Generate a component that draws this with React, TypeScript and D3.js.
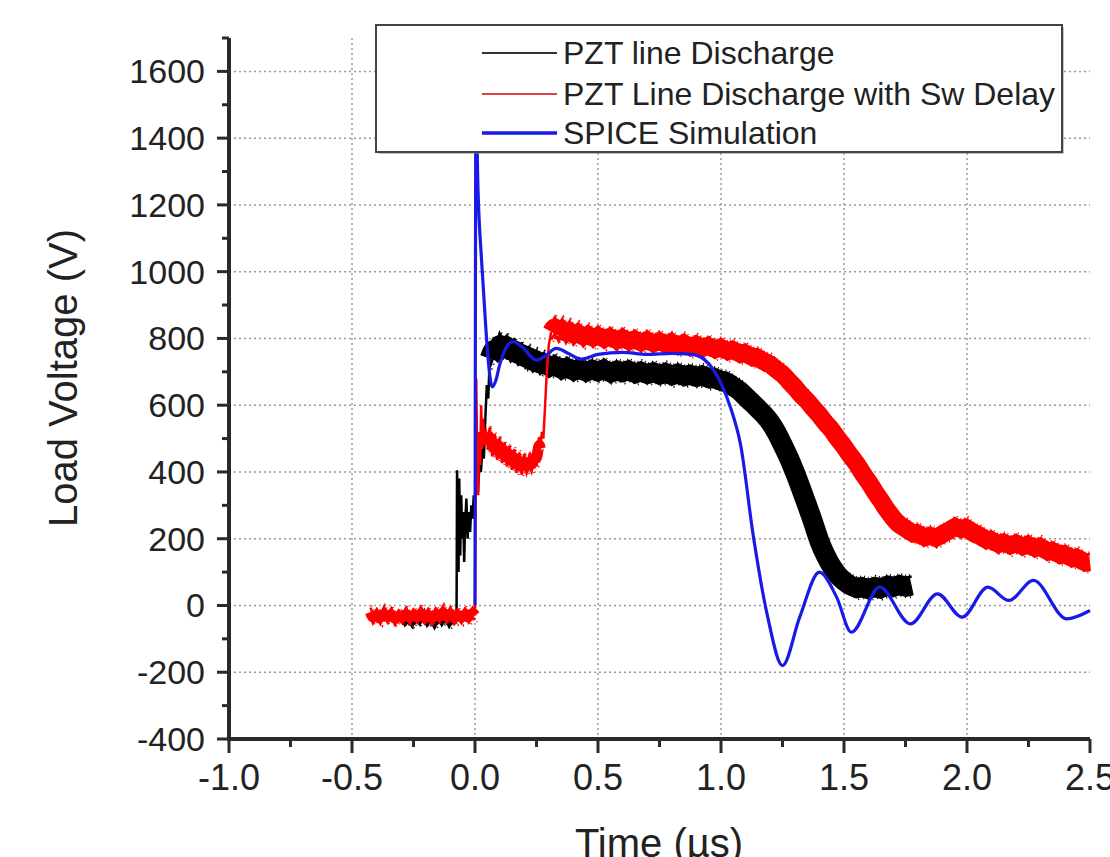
import React from "react";
import * as d3 from "d3";

const xTicks = [-1.0, -0.5, 0.0, 0.5, 1.0, 1.5, 2.0, 2.5];
const yTicks = [-400, -200, 0, 200, 400, 600, 800, 1000, 1200, 1400, 1600];
const legendLabels = ["PZT line Discharge", "PZT Line Discharge with Sw Delay", "SPICE Simulation"];

// Black trace: PZT line Discharge
const blackBase: [number, number][] = [
  [-0.3, -30], [-0.285, -50], [-0.27, -35], [-0.255, -55], [-0.24, -32], [-0.225, -48], [-0.21, -28],
  [-0.195, -52], [-0.18, -36], [-0.165, -58], [-0.15, -34], [-0.135, -50], [-0.12, -30], [-0.105, -55],
  [-0.09, -38], [-0.075, -45],
];
const blackOnset: [number, number][] = [
  [-0.075, -40], [-0.073, 405], [-0.07, 300], [-0.067, 100], [-0.064, 380], [-0.06, 150], [-0.056, 330],
  [-0.052, 200], [-0.048, 280], [-0.044, 130], [-0.04, 250], [-0.035, 320], [-0.03, 200], [-0.025, 280],
  [-0.02, 220], [-0.015, 300], [-0.01, 260], [-0.005, 330], [0.0, 300], [0.006, 380], [0.012, 340],
  [0.018, 420], [0.024, 400], [0.03, 470], [0.036, 440], [0.042, 560], [0.048, 660], [0.054, 620], [0.06, 740],
];
const blackMain: [number, number][] = [
  [0.06, 740], [0.075, 772], [0.09, 760], [0.1, 788], [0.115, 768], [0.13, 782], [0.145, 758], [0.16, 770],
  [0.175, 748], [0.19, 758], [0.205, 738], [0.22, 748], [0.235, 728], [0.25, 738], [0.265, 720], [0.28, 730],
  [0.3, 712], [0.325, 722], [0.35, 705], [0.375, 715], [0.4, 700], [0.425, 712], [0.45, 698], [0.475, 708],
  [0.5, 700], [0.525, 710], [0.55, 695], [0.575, 705], [0.6, 698], [0.625, 706], [0.65, 694], [0.675, 702],
  [0.7, 692], [0.725, 700], [0.75, 690], [0.775, 698], [0.8, 688], [0.825, 696], [0.85, 686], [0.875, 692],
  [0.9, 684], [0.925, 690], [0.95, 680], [0.975, 682], [1.0, 672], [1.025, 670], [1.05, 655], [1.075, 645],
  [1.1, 625], [1.125, 608], [1.15, 590], [1.175, 572], [1.2, 550], [1.225, 520], [1.25, 482], [1.275, 445],
  [1.3, 400], [1.325, 352], [1.35, 300], [1.375, 250], [1.4, 190], [1.425, 150], [1.45, 115], [1.475, 90],
  [1.5, 72], [1.525, 60], [1.55, 52], [1.575, 55], [1.6, 48], [1.625, 56], [1.65, 50], [1.675, 60],
  [1.7, 55], [1.725, 62], [1.75, 56], [1.775, 60],
];

// Red trace: PZT Line Discharge with Sw Delay
const redBase: [number, number][] = [
  [-0.425, -20], [-0.415, -40], [-0.4, -25], [-0.385, -42], [-0.37, -18], [-0.355, -38], [-0.34, -22],
  [-0.325, -45], [-0.31, -28], [-0.295, -40], [-0.28, -20], [-0.265, -42], [-0.25, -25], [-0.235, -38],
  [-0.22, -18], [-0.205, -40], [-0.19, -24], [-0.175, -44], [-0.16, -22], [-0.145, -36], [-0.13, -15],
  [-0.115, -38], [-0.1, -20], [-0.085, -42], [-0.07, -25], [-0.055, -40], [-0.04, -22], [-0.025, -38],
  [-0.01, -20], [0.0, -30],
];
const redOnset: [number, number][] = [
  [0.0, -30], [0.002, 300], [0.005, 680], [0.009, 450], [0.013, 330], [0.017, 520], [0.021, 420],
  [0.025, 600], [0.029, 470], [0.033, 560], [0.038, 480], [0.043, 530], [0.05, 480],
];
const redMid: [number, number][] = [
  [0.05, 480], [0.06, 520], [0.07, 460], [0.08, 500], [0.09, 450], [0.1, 490], [0.11, 440], [0.12, 475],
  [0.13, 430], [0.14, 465], [0.15, 420], [0.16, 455], [0.17, 410], [0.18, 445], [0.19, 405], [0.2, 440],
  [0.21, 410], [0.22, 435], [0.23, 415], [0.24, 450], [0.25, 430], [0.26, 490], [0.265, 470],
];
const redRise: [number, number][] = [
  [0.265, 470], [0.272, 520], [0.278, 500], [0.285, 600], [0.292, 700], [0.3, 780], [0.31, 820],
];
const redMain: [number, number][] = [
  [0.31, 820], [0.325, 840], [0.34, 815], [0.355, 835], [0.37, 810], [0.385, 828], [0.4, 805], [0.42, 822],
  [0.44, 800], [0.46, 815], [0.48, 798], [0.5, 812], [0.525, 795], [0.55, 808], [0.575, 790], [0.6, 805],
  [0.625, 788], [0.65, 800], [0.675, 785], [0.7, 798], [0.725, 782], [0.75, 795], [0.775, 780], [0.8, 792],
  [0.825, 776], [0.85, 788], [0.875, 772], [0.9, 784], [0.925, 770], [0.95, 780], [0.975, 765], [1.0, 775],
  [1.025, 760], [1.05, 768], [1.075, 752], [1.1, 758], [1.125, 742], [1.15, 745], [1.175, 728], [1.2, 725],
  [1.225, 705], [1.25, 695], [1.275, 672], [1.3, 655], [1.325, 630], [1.35, 615], [1.375, 590], [1.4, 572],
  [1.425, 545], [1.45, 528], [1.475, 498], [1.5, 478], [1.525, 448], [1.55, 428], [1.575, 395], [1.6, 372],
  [1.625, 340], [1.65, 315], [1.675, 285], [1.7, 262], [1.725, 240], [1.75, 232], [1.775, 215], [1.8, 218],
  [1.825, 202], [1.85, 210], [1.875, 200], [1.9, 215], [1.925, 222], [1.95, 238], [1.975, 228], [2.0, 235],
  [2.025, 215], [2.05, 212], [2.075, 195], [2.1, 198], [2.125, 182], [2.15, 190], [2.175, 178], [2.2, 188],
  [2.225, 175], [2.25, 185], [2.275, 170], [2.3, 178], [2.325, 160], [2.35, 165], [2.375, 150], [2.4, 155],
  [2.425, 140], [2.45, 145], [2.475, 128], [2.5, 130],
];

// Blue trace: SPICE Simulation
const blueSim: [number, number][] = [
  [0.0, 0], [0.004, 1500], [0.012, 1250], [0.027, 1030], [0.045, 820], [0.06, 690], [0.07, 655],
  [0.085, 675], [0.1, 720], [0.125, 770], [0.155, 790], [0.19, 775], [0.25, 735], [0.29, 750], [0.33, 770],
  [0.38, 755], [0.43, 738], [0.5, 752], [0.6, 758], [0.7, 752], [0.8, 755], [0.88, 752], [0.93, 738],
  [0.97, 705], [1.0, 665], [1.04, 590], [1.08, 480], [1.13, 215], [1.19, -35], [1.25, -180], [1.32, -35],
  [1.4, 100], [1.47, 25], [1.53, -80], [1.645, 55], [1.77, -55], [1.88, 35], [1.98, -35], [2.085, 55],
  [2.17, 15], [2.27, 75], [2.405, -40], [2.5, -15],
];

const W = 1110;
const H = 857;
const FONT = "'Liberation Sans', Arial, Helvetica, sans-serif";

export default function App() {
  const x = d3.scaleLinear().domain([-1.0, 2.5]).range([229, 1090]);
  const y = d3.scaleLinear().domain([-400, 1700]).range([739, 38]);

  const rough = d3.line<[number, number]>().x((d) => x(d[0])).y((d) => y(d[1]));
  const basis = d3
    .line<[number, number]>()
    .x((d) => x(d[0]))
    .y((d) => y(d[1]))
    .curve(d3.curveBasis);
  const smooth = d3
    .line<[number, number]>()
    .x((d) => x(d[0]))
    .y((d) => y(d[1]))
    .curve(d3.curveMonotoneX);

  const yMinor = d3.range(-400, 1701, 100).filter((v) => v % 200 !== 0);
  const xMinor = d3.range(-1.0, 2.51, 0.25).filter((v) => Math.abs((v * 2) % 1) > 0.01);
  const xGrid = xTicks.filter((v) => v > -1.0 && v < 2.5);
  const yGrid = yTicks.filter((v) => v > -400);

  const legendRows = [
    { label: legendLabels[0], color: "#333", w: 2 },
    { label: legendLabels[1], color: "#e04040", w: 2 },
    { label: legendLabels[2], color: "#1a1ae6", w: 3.5 },
  ];
  const legendY = [53, 94, 133];

  const band = (data: [number, number][], color: string, w: number, key: string) => {
    const r = rough(data) || "";
    const off = w / 2 - 1;
    return (
      <g key={key} fill="none" stroke={color}>
        <path d={basis(data) || ""} strokeWidth={w} strokeLinejoin="round" strokeLinecap="butt" />
        <path d={r} strokeWidth={2.5} strokeLinejoin="miter" transform={`translate(0, ${-off})`} />
        <path d={r} strokeWidth={2.5} strokeLinejoin="miter" transform={`translate(0, ${off})`} />
        <path d={r} strokeWidth={2} strokeDasharray="1,3" transform={`translate(1, ${-off - 2})`} />
        <path d={r} strokeWidth={2} strokeDasharray="1,4" transform={`translate(2, ${off + 2})`} />
      </g>
    );
  };

  return (
    <svg
      width={W}
      height={H}
      style={{ position: "absolute", left: 0, top: 0, background: "#fff" }}
      fontFamily={FONT}
    >
      <rect x={0} y={0} width={W} height={H} fill="#fff" />
      {/* grid */}
      <g stroke="#9a9a9a" strokeWidth={1.5} strokeDasharray="2,3">
        {xGrid.map((v) => (
          <line key={"gx" + v} x1={x(v)} x2={x(v)} y1={y(1700)} y2={y(-400)} />
        ))}
        {yGrid.map((v) => (
          <line key={"gy" + v} x1={x(-1.0)} x2={x(2.5)} y1={y(v)} y2={y(v)} />
        ))}
      </g>

      {/* black series */}
      {band(blackBase, "#000", 8, "bb")}
      <path d={rough(blackOnset) || ""} fill="none" stroke="#000" strokeWidth={2.5} />
      {band(blackMain, "#000", 20, "bm")}
      {/* red series */}
      {band(redBase, "#ff0000", 11, "rb")}
      <path d={rough(redOnset) || ""} fill="none" stroke="#ff0000" strokeWidth={2.5} />
      {band(redMid, "#ff0000", 11, "rmid")}
      <path d={rough(redRise) || ""} fill="none" stroke="#ff0000" strokeWidth={2.5} />
      {band(redMain, "#ff0000", 18, "rm")}
      {/* blue series */}
      <path d={smooth(blueSim) || ""} fill="none" stroke="#1a1ae6" strokeWidth={3.2} strokeLinejoin="round" />

      {/* axes */}
      <g stroke="#2a2a2a">
        <line x1={x(-1.0)} x2={x(-1.0)} y1={y(1700)} y2={y(-400) + 2} strokeWidth={4} />
        <line x1={x(-1.0) - 2} x2={x(2.5)} y1={y(-400)} y2={y(-400)} strokeWidth={4} />
        {yTicks.map((v) => (
          <line key={"ty" + v} x1={x(-1.0) - 12} x2={x(-1.0)} y1={y(v)} y2={y(v)} strokeWidth={3} />
        ))}
        {yMinor.map((v) => (
          <line key={"tym" + v} x1={x(-1.0) - 7} x2={x(-1.0)} y1={y(v)} y2={y(v)} strokeWidth={3} />
        ))}
        {xTicks.map((v) => (
          <line key={"tx" + v} x1={x(v)} x2={x(v)} y1={y(-400)} y2={y(-400) + 14} strokeWidth={3} />
        ))}
        {xMinor.map((v) => (
          <line key={"txm" + v} x1={x(v)} x2={x(v)} y1={y(-400)} y2={y(-400) + 8} strokeWidth={3} />
        ))}
      </g>
      <g fill="#222">
        {yTicks.map((v) => (
          <text key={"ly" + v} x={x(-1.0) - 24} y={y(v)} dy="0.35em" textAnchor="end" fontSize={34}>
            {v}
          </text>
        ))}
        {xTicks.map((v) => (
          <text key={"lx" + v} x={x(v)} y={790} textAnchor="middle" fontSize={36}>
            {v.toFixed(1)}
          </text>
        ))}
      </g>
      <text x={659} y={857} fontSize={40} textAnchor="middle" fill="#222">
        Time (µs)
      </text>
      <text
        transform={`translate(77, 378) rotate(-90)`}
        fontSize={40}
        textAnchor="middle"
        fill="#222"
      >
        Load Voltage (V)
      </text>

      {/* legend */}
      <rect x={378} y={27} width={686} height={127} fill="#888" opacity={0.5} />
      <rect x={376} y={25} width={686} height={127} fill="#fff" stroke="#444" strokeWidth={2} />
      {legendRows.map((r, i) => (
        <g key={"lg" + i}>
          <line x1={482} x2={557} y1={legendY[i]} y2={legendY[i]} stroke={r.color} strokeWidth={r.w} />
          <text x={563} y={legendY[i]} dy="0.35em" fontSize={32} fill="#222">
            {r.label}
          </text>
        </g>
      ))}
    </svg>
  );
}
